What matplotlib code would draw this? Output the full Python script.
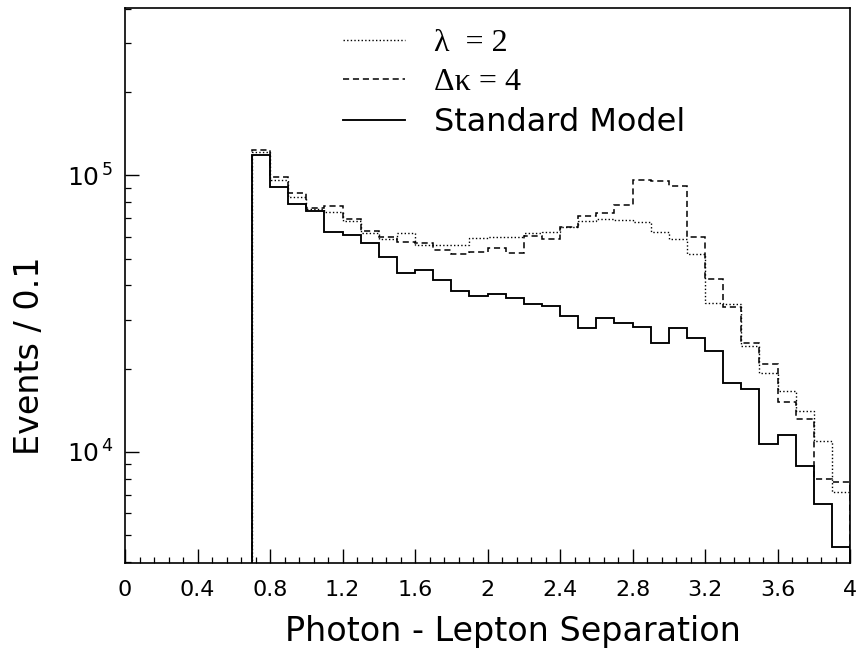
import matplotlib
matplotlib.use("Agg")
import matplotlib.pyplot as plt
import numpy as np
from matplotlib.ticker import LogLocator, MultipleLocator, FuncFormatter, NullFormatter

# ---- data -------------------------------------------------------------
bin_edges = np.round(np.arange(0.7, 4.0001, 0.1), 2)   # 0.7 ... 4.0, width 0.1

sm_values = [1.18e5, 9.07e4, 7.87e4, 7.43e4, 6.22e4, 6.08e4, 5.67e4, 5.08e4,
             4.43e4, 4.55e4, 4.19e4, 3.83e4, 3.66e4, 3.72e4, 3.60e4, 3.43e4,
             3.37e4, 3.10e4, 2.80e4, 3.06e4, 2.92e4, 2.82e4, 2.47e4, 2.80e4,
             2.57e4, 2.31e4, 1.77e4, 1.68e4, 1.067e4, 1.146e4, 8.87e3, 6.47e3,
             4.51e3]

lambda2_values = [1.21e5, 9.62e4, 8.32e4, 7.55e4, 7.35e4, 6.85e4, 6.20e4, 5.89e4,
                  6.19e4, 5.62e4, 5.62e4, 5.62e4, 5.92e4, 5.99e4, 5.99e4, 6.19e4,
                  6.25e4, 6.49e4, 6.85e4, 6.95e4, 6.90e4, 6.80e4, 6.25e4, 5.87e4,
                  5.19e4, 3.46e4, 3.43e4, 2.41e4, 1.93e4, 1.66e4, 1.40e4, 1.094e4,
                  7.13e3]

dkappa4_values = [1.23e5, 9.88e4, 8.61e4, 7.62e4, 7.74e4, 6.98e4, 6.27e4, 5.97e4,
                  5.74e4, 5.70e4, 5.37e4, 5.20e4, 5.29e4, 5.47e4, 5.22e4, 6.03e4,
                  5.86e4, 6.49e4, 7.15e4, 7.33e4, 7.78e4, 9.62e4, 9.53e4, 9.17e4,
                  6.00e4, 4.21e4, 3.35e4, 2.47e4, 2.07e4, 1.52e4, 1.31e4, 7.96e3,
                  7.78e3]

series_labels = ["\u03bb  = 2", "\u0394\u03ba = 4", "Standard Model"]
x_label = "Photon - Lepton Separation"
y_label = "Events / 0.1"

# ---- figure -----------------------------------------------------------
plt.rcParams["font.family"] = ["DejaVu Sans"]
plt.rcParams["mathtext.fontset"] = "dejavusans"

W, H = 860, 657
fig = plt.figure(figsize=(W / 100, H / 100), dpi=100)
ax = fig.add_axes([125 / W, (H - 563) / H, 725 / W, 555 / H])
ax.set_yscale("log")

h1 = ax.stairs(lambda2_values, bin_edges, baseline=1, color="black",
               linestyle=(0, (1, 1.6)), linewidth=1.0, label=series_labels[0])
h2 = ax.stairs(dkappa4_values, bin_edges, baseline=1, color="black",
               linestyle=(0, (4, 2.5)), linewidth=1.1, label=series_labels[1])
h3 = ax.stairs(sm_values, bin_edges, baseline=1, color="black",
               linestyle="-", linewidth=1.35, label=series_labels[2])

ax.set_xlim(0, 4)
ax.set_ylim(3.96e3, 4.03e5)

# ticks
ax.xaxis.set_major_locator(MultipleLocator(0.4))
ax.xaxis.set_minor_locator(MultipleLocator(0.08))
ax.xaxis.set_major_formatter(FuncFormatter(lambda v, p: f"{v:g}"))
ax.yaxis.set_major_locator(LogLocator(base=10, numticks=10))
ax.yaxis.set_minor_locator(LogLocator(base=10, subs=np.arange(2, 10), numticks=20))
ax.yaxis.set_minor_formatter(NullFormatter())
ax.yaxis.set_major_formatter(
    FuncFormatter(lambda v, p: r"$\mathregular{10^{\,%d}}$" % round(np.log10(v))))

ax.tick_params(which="both", direction="in", top=False, right=False, color="black")
ax.tick_params(which="major", length=10, width=1.0)
ax.tick_params(axis="x", which="major", pad=12, labelsize=16)
ax.tick_params(axis="y", which="major", pad=8, labelsize=18)
ax.tick_params(which="minor", length=4.5, width=0.9)

for s in ax.spines.values():
    s.set_linewidth(1.2)

# axis labels
fig.text(513 / W, 1 - 632 / H, x_label, ha="center", va="center", fontsize=24)
fig.text(30 / W, 1 - 356 / H, y_label, ha="center", va="center", rotation=90,
         fontsize=24)

# legend
leg = ax.legend(handles=[h1, h2, h3], loc="upper left",
                bbox_to_anchor=(0.300, 0.962), frameon=False, fontsize=23,
                handlelength=1.95, handletextpad=0.9, labelspacing=0.30,
                borderpad=0, borderaxespad=0)
for t in leg.get_texts()[:2]:
    t.set_family(["Liberation Serif", "DejaVu Serif"])

fig.savefig("out.png", dpi=100, facecolor="white")
